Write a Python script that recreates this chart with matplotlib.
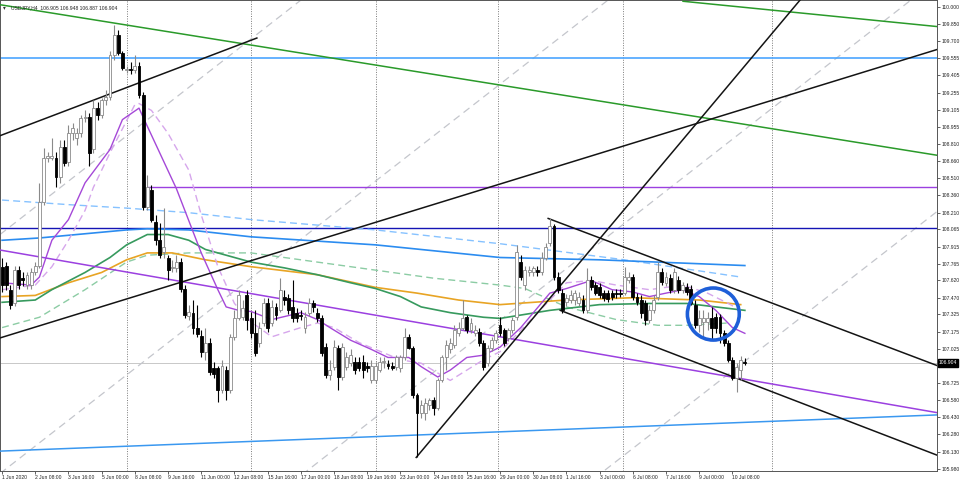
import numpy as np
import matplotlib
matplotlib.use("Agg")
import matplotlib.pyplot as plt
from matplotlib.patches import Ellipse

# USDJPY H4 candles, 1 Jun 2020 00:00 .. 10 Jul 2020
opens = [107.74, 107.75, 107.54, 107.42, 107.71, 107.64, 107.58, 107.58, 107.69, 107.75,
         108.30, 108.69, 108.69, 108.69, 108.52, 108.78, 108.65, 108.90, 108.86, 108.90,
         109.03, 109.04, 108.76, 109.12, 109.06, 109.19, 109.22, 109.58, 109.76, 109.60,
         109.45, 109.46, 109.45, 109.49, 109.23, 108.26, 108.41, 108.13, 107.97, 107.87,
         107.82, 107.73, 107.73, 107.78, 107.55, 107.31, 107.34, 107.21, 107.14, 107.00,
         107.08, 106.86, 106.86, 106.67, 106.84, 106.67, 107.13, 107.29, 107.30, 107.49,
         107.29, 107.16, 107.08, 107.25, 107.42, 107.25, 107.39, 107.36, 107.48, 107.47,
         107.39, 107.34, 107.32, 107.21, 107.34, 107.42, 107.34, 107.29, 107.04, 106.80,
         106.87, 107.03, 106.78, 106.87, 106.90, 106.91, 106.91, 106.91, 106.88, 106.75,
         106.75, 106.84, 106.91, 106.89, 106.88, 106.87, 106.86, 106.95, 107.13, 107.03,
         106.62, 106.47, 106.47, 106.54, 106.58, 106.51, 106.75, 106.95, 107.02, 107.06,
         107.16, 107.21, 107.30, 107.19, 107.16, 107.17, 107.08, 106.90, 107.03, 107.10,
         107.23, 107.19, 107.12, 107.19, 107.30, 107.78, 107.58, 107.69, 107.69, 107.71,
         107.69, 107.82, 107.95, 108.09, 107.65, 107.51, 107.43, 107.45, 107.45, 107.42,
         107.45, 107.36, 107.62, 107.58, 107.56, 107.51, 107.51, 107.51, 107.51, 107.51,
         107.51, 107.62, 107.65, 107.48, 107.45, 107.42, 107.28, 107.36, 107.48, 107.69,
         107.60, 107.64, 107.54, 107.62, 107.54, 107.56, 107.55, 107.41, 107.23, 107.26,
         107.26, 107.29, 107.30, 107.30, 107.16, 107.08, 106.93, 106.77, 106.84, 106.905]
highs = [107.82, 107.78, 107.58, 107.75, 107.75, 107.69, 107.69, 107.73, 107.78, 108.47,
         108.77, 108.74, 108.86, 108.74, 108.84, 108.84, 108.97, 108.99, 108.95, 109.06,
         109.10, 109.08, 109.19, 109.17, 109.21, 109.28, 109.62, 109.84, 109.80, 109.62,
         109.49, 109.52, 109.58, 109.52, 109.26, 108.54, 108.45, 108.19, 108.12, 108.25,
         107.84, 107.80, 107.84, 107.82, 107.58, 107.41, 107.45, 107.41, 107.19, 107.21,
         107.12, 106.91, 106.88, 106.93, 106.88, 107.15, 107.36, 107.54, 107.45, 107.54,
         107.35, 107.36, 107.26, 107.47, 107.47, 107.45, 107.42, 107.64, 107.54, 107.50,
         107.62, 107.38, 107.36, 107.35, 107.47, 107.45, 107.38, 107.32, 107.08, 106.93,
         107.10, 107.06, 107.08, 107.00, 107.02, 106.95, 106.95, 106.97, 106.91, 106.93,
         106.91, 106.95, 106.95, 106.93, 106.91, 106.97, 106.97, 107.21, 107.15, 107.05,
         106.64, 106.58, 106.60, 106.60, 106.61, 106.77, 106.97, 107.10, 107.12, 107.23,
         107.26, 107.45, 107.32, 107.29, 107.23, 107.21, 107.10, 107.06, 107.13, 107.19,
         107.30, 107.21, 107.21, 107.30, 107.93, 107.84, 107.75, 107.75, 107.75, 107.75,
         107.87, 107.95, 108.16, 108.11, 107.69, 107.55, 107.50, 107.54, 107.54, 107.52,
         107.49, 107.73, 107.66, 107.61, 107.60, 107.54, 107.54, 107.54, 107.55, 107.55,
         107.74, 107.69, 107.68, 107.51, 107.49, 107.45, 107.41, 107.49, 107.78, 107.73,
         107.69, 107.68, 107.73, 107.66, 107.61, 107.60, 107.58, 107.45, 107.36, 107.36,
         107.35, 107.39, 107.34, 107.33, 107.19, 107.10, 106.95, 106.90, 106.96, 106.948]
lows = [107.52, 107.54, 107.37, 107.40, 107.55, 107.57, 107.55, 107.55, 107.67, 107.73,
        108.28, 108.65, 108.67, 108.43, 108.47, 108.62, 108.62, 108.84, 108.80, 108.87,
        109.00, 108.62, 108.73, 109.02, 109.03, 109.15, 109.19, 109.54, 109.58, 109.45,
        109.43, 109.42, 109.43, 109.21, 108.23, 108.23, 108.13, 107.93, 107.82, 107.82,
        107.62, 107.69, 107.69, 107.52, 107.29, 107.28, 107.15, 107.13, 106.95, 106.93,
        106.80, 106.77, 106.56, 106.64, 106.58, 106.64, 107.10, 107.28, 107.28, 107.19,
        107.12, 106.96, 107.04, 107.22, 107.17, 107.22, 107.28, 107.35, 107.41, 107.33,
        107.26, 107.26, 107.28, 107.16, 107.31, 107.35, 107.26, 106.96, 106.77, 106.75,
        106.84, 106.67, 106.75, 106.84, 106.88, 106.81, 106.83, 106.77, 106.82, 106.73,
        106.73, 106.82, 106.86, 106.85, 106.84, 106.84, 106.82, 106.93, 107.02, 106.60,
        106.08, 106.42, 106.41, 106.49, 106.45, 106.49, 106.74, 106.84, 106.99, 107.03,
        107.14, 107.19, 107.16, 107.16, 107.14, 107.05, 106.84, 106.88, 107.01, 107.08,
        107.14, 107.05, 107.09, 107.16, 107.28, 107.62, 107.54, 107.66, 107.66, 107.66,
        107.67, 107.80, 107.92, 107.62, 107.51, 107.34, 107.40, 107.42, 107.41, 107.40,
        107.34, 107.34, 107.54, 107.49, 107.47, 107.44, 107.43, 107.45, 107.47, 107.48,
        107.49, 107.60, 107.45, 107.41, 107.29, 107.23, 107.25, 107.34, 107.45, 107.58,
        107.57, 107.51, 107.51, 107.51, 107.51, 107.49, 107.41, 107.21, 107.17, 107.13,
        107.19, 107.10, 107.16, 107.08, 107.05, 106.91, 106.75, 106.65, 106.75, 106.887]
closes = [107.58, 107.58, 107.41, 107.71, 107.58, 107.62, 107.67, 107.69, 107.75, 108.30,
          108.69, 108.70, 108.70, 108.52, 108.78, 108.64, 108.90, 108.95, 108.90, 109.03,
          109.04, 108.73, 109.12, 109.06, 109.19, 109.22, 109.58, 109.76, 109.60, 109.47,
          109.46, 109.45, 109.49, 109.23, 108.26, 108.43, 108.15, 107.97, 107.84, 107.91,
          107.71, 107.74, 107.78, 107.55, 107.32, 107.35, 107.21, 107.15, 107.00, 107.08,
          106.82, 106.81, 106.67, 106.88, 106.67, 107.13, 107.29, 107.49, 107.38, 107.28,
          107.16, 106.99, 107.21, 107.42, 107.21, 107.39, 107.32, 107.54, 107.45, 107.36,
          107.29, 107.29, 107.31, 107.30, 107.42, 107.39, 107.29, 106.99, 106.80, 106.84,
          107.04, 106.78, 107.04, 106.95, 106.97, 106.84, 106.86, 106.84, 106.86, 106.88,
          106.88, 106.91, 106.92, 106.88, 106.86, 106.95, 106.95, 107.13, 107.03, 106.62,
          106.47, 106.54, 106.55, 106.58, 106.51, 106.75, 106.95, 107.06, 107.08, 107.19,
          107.21, 107.29, 107.19, 107.25, 107.19, 107.08, 106.87, 107.03, 107.10, 107.16,
          107.16, 107.08, 107.19, 107.28, 107.87, 107.65, 107.71, 107.71, 107.73, 107.69,
          107.82, 107.91, 108.09, 107.65, 107.54, 107.36, 107.47, 107.49, 107.51, 107.48,
          107.36, 107.62, 107.56, 107.51, 107.49, 107.47, 107.46, 107.48, 107.50, 107.50,
          107.65, 107.65, 107.48, 107.43, 107.34, 107.28, 107.36, 107.45, 107.69, 107.61,
          107.65, 107.54, 107.69, 107.54, 107.58, 107.52, 107.42, 107.23, 107.29, 107.29,
          107.29, 107.21, 107.21, 107.16, 107.08, 106.93, 106.77, 106.87, 106.93, 106.904]

time_labels = ["1 Jun 2020", "2 Jun 08:00", "3 Jun 16:00", "5 Jun 00:00", "8 Jun 08:00",
               "9 Jun 16:00", "11 Jun 00:00", "12 Jun 08:00", "15 Jun 16:00", "17 Jun 00:00",
               "18 Jun 08:00", "19 Jun 16:00", "23 Jun 00:00", "24 Jun 08:00", "25 Jun 16:00",
               "29 Jun 00:00", "30 Jun 08:00", "1 Jul 16:00", "3 Jul 00:00", "6 Jul 08:00",
               "7 Jul 16:00", "9 Jul 00:00", "10 Jul 08:00"]
label_bars = list(range(0, 8 * len(time_labels), 8))

price_ticks = [110.000, 109.850, 109.700, 109.555, 109.405, 109.255, 109.105, 108.955,
               108.810, 108.660, 108.510, 108.360, 108.210, 108.065, 107.915, 107.765,
               107.620, 107.470, 107.325, 107.175, 107.025, 106.875, 106.725, 106.580,
               106.430, 106.280, 106.130, 105.980]

# moving averages (bar index, price)
ma_blue_x = [0, 9, 30, 35, 45, 60, 90, 120, 144, 179]
ma_blue_y = [107.97, 107.99, 108.06, 108.07, 108.06, 108.00, 107.93, 107.82, 107.80, 107.75]
ma_lblue_x = [0, 16, 30, 45, 60, 90, 120, 150, 178]
ma_lblue_y = [108.32, 108.28, 108.25, 108.21, 108.15, 108.06, 107.94, 107.80, 107.65]
ma_green_x = [0, 8, 12, 20, 26, 30, 35, 40, 45, 49, 56, 60, 68, 76, 84, 90, 96, 101, 108,
              116, 120, 132, 144, 156, 165, 172, 179]
ma_green_y = [107.43, 107.45, 107.54, 107.69, 107.82, 107.93, 108.02, 108.02, 107.97, 107.89,
              107.82, 107.78, 107.73, 107.67, 107.60, 107.55, 107.48, 107.39, 107.34, 107.30,
              107.29, 107.36, 107.41, 107.42, 107.42, 107.39, 107.36]
ma_orange_x = [0, 8, 16, 24, 30, 35, 41, 49, 60, 76, 90, 100, 110, 120, 136, 152, 168, 178]
ma_orange_y = [107.48, 107.49, 107.60, 107.69, 107.80, 107.86, 107.86, 107.80, 107.74, 107.67,
               107.56, 107.51, 107.45, 107.41, 107.45, 107.47, 107.45, 107.41]
ma_lgreen_x = [0, 9, 20, 30, 35, 45, 60, 76, 90, 104, 120, 126, 136, 148, 158, 165, 175]
ma_lgreen_y = [107.21, 107.30, 107.54, 107.78, 107.84, 107.86, 107.86, 107.78, 107.71, 107.64,
               107.58, 107.55, 107.39, 107.28, 107.23, 107.23, 107.25]
ma_purple_x = [0, 7, 9, 12, 16, 20, 26, 29, 33, 34, 38, 42, 48, 52, 54, 57, 60, 65, 72, 76,
               79, 84, 89, 93, 98, 101, 105, 108, 112, 116, 120, 125, 132, 136, 142, 147, 152,
               156, 160, 164, 168, 172, 176, 179]
ma_purple_y = [107.60, 107.58, 107.65, 107.97, 108.15, 108.47, 108.76, 109.02, 109.12, 109.04,
               108.73, 108.42, 107.86, 107.54, 107.39, 107.36, 107.35, 107.28, 107.34, 107.28,
               107.21, 107.10, 107.02, 106.95, 106.95, 106.87, 106.78, 106.84, 106.95, 106.97,
               107.04, 107.21, 107.51, 107.55, 107.62, 107.54, 107.52, 107.48, 107.51, 107.54,
               107.48, 107.36, 107.21, 107.16]
ma_lpurple_x = [0, 8, 12, 16, 20, 22, 26, 32, 33, 36, 40, 45, 48, 52, 56, 60, 65, 72, 76, 80,
                86, 92, 96, 101, 108, 112, 116, 120, 128, 136, 142, 148, 156, 164, 170, 175, 178]
ma_lpurple_y = [107.54, 107.58, 107.74, 107.97, 108.23, 108.43, 108.73, 109.15, 109.16, 109.10,
                108.90, 108.58, 108.19, 107.74, 107.42, 107.26, 107.13, 107.21, 107.25, 107.21,
                107.08, 106.99, 106.93, 106.90, 106.75, 106.84, 106.93, 107.00, 107.30, 107.60,
                107.62, 107.58, 107.54, 107.58, 107.51, 107.42, 107.36]

# drawn objects: ((bar, price), (bar, price))
black_lines = [((-0.5, 108.88), (61.4, 109.73)),
               ((-0.5, 107.12), (225.3, 109.63)),
               ((99.8, 106.08), (196.0, 110.22)),
               ((131.6, 108.16), (225.3, 106.88)),
               ((134.5, 107.36), (225.3, 106.10))]
green_lines = [((-0.5, 110.02), (225.3, 108.71)),
               ((164.1, 110.05), (225.3, 109.83))]
purple_line = ((-0.5, 107.885), (225.3, 106.47))
blue_line = ((-0.5, 106.135), (225.3, 106.45))
gray_dashed = [((-0.5, 105.94), (146.0, 110.06)),
               ((-0.5, 108.02), (72.0, 110.06)),
               ((72.3, 105.93), (219.0, 110.06)),
               ((145.3, 105.97), (225.3, 108.22))]
level_lightblue = 109.56
level_navy = 108.075
level_purple = 108.43
level_purple_start = 35.2
bid = 106.904
grid_bars = [30, 60, 90, 119.5, 149.6, 185.5]

plt.rcParams['font.family'] = ['Liberation Sans', 'DejaVu Sans']

fig = plt.figure(figsize=(9.6, 4.82), dpi=100)
ax = fig.add_axes([0.0, 11 / 482, 937 / 960, 471 / 482])
ax.set_xlim(-0.5, 225.3)
ax.set_ylim(105.962, 110.061)

for b in grid_bars:
    ax.axvline(b, color='#7a7a7a', lw=0.7, ls=(0, (1, 1.5)), zorder=1)
ax.axhline(bid, color='#c8c8c8', lw=0.7, zorder=1)

for (x0, y0), (x1, y1) in gray_dashed:
    ax.plot([x0, x1], [y0, y1], color='#c4c6cc', lw=0.9, ls=(0, (6, 4)), zorder=2)

ax.axhline(level_lightblue, color='#4ba6ff', lw=1.2, zorder=2)
ax.axhline(level_navy, color='#1414b4', lw=1.0, zorder=2)
ax.plot([level_purple_start, 225.3], [level_purple, level_purple], color='#9b40e0', lw=1.0, zorder=2)

ax.plot(ma_lblue_x, ma_lblue_y, color='#86c2ff', lw=1.0, ls=(0, (5, 3)), zorder=3)
ax.plot(ma_blue_x, ma_blue_y, color='#2b8cf0', lw=1.2, zorder=3)
ax.plot(ma_lgreen_x, ma_lgreen_y, color='#8ccca4', lw=1.0, ls=(0, (5, 3)), zorder=3)
ax.plot(ma_orange_x, ma_orange_y, color='#e8a424', lw=1.2, zorder=3)
ax.plot(ma_green_x, ma_green_y, color='#379a5e', lw=1.2, zorder=3)
ax.plot(ma_lpurple_x, ma_lpurple_y, color='#d6a6ec', lw=1.0, ls=(0, (5, 3)), zorder=3)
ax.plot(ma_purple_x, ma_purple_y, color='#a548d8', lw=1.0, zorder=3)

for (x0, y0), (x1, y1) in green_lines:
    ax.plot([x0, x1], [y0, y1], color='#2a9a2a', lw=1.1, zorder=4)
ax.plot(*zip(*purple_line), color='#9b40e0', lw=1.1, zorder=4)
ax.plot(*zip(*blue_line), color='#3a98f0', lw=1.1, zorder=4)
for (x0, y0), (x1, y1) in black_lines:
    ax.plot([x0, x1], [y0, y1], color='#141414', lw=1.1, zorder=4)

# candles
o = np.array(opens)
h = np.array(highs)
l = np.array(lows)
c = np.array(closes)
idx = np.arange(len(o))
up = c >= o
lo = np.minimum(o, c)
hgt = np.maximum(np.abs(c - o), 0.005)
ax.vlines(idx[up], l[up], h[up], color='#8a8a8a', lw=0.8, zorder=5)
ax.vlines(idx[~up], l[~up], h[~up], color='#000000', lw=0.8, zorder=5)
ax.bar(idx[up], hgt[up], bottom=lo[up], width=0.7, color='white',
       edgecolor='#8a8a8a', linewidth=0.6, zorder=6)
ax.bar(idx[~up], hgt[~up], bottom=lo[~up], width=0.7, color='black',
       edgecolor='black', linewidth=0.6, zorder=6)

# highlight circle
ax.add_patch(Ellipse((171.4, 107.328), 12.5, 0.453, fill=False,
                     edgecolor='#1e5fd8', lw=2.6, zorder=7))

# axes styling
ax.yaxis.tick_right()
ax.set_yticks(price_ticks)
ax.set_yticklabels([f"{p:.3f}" for p in price_ticks])
ax.set_xticks(label_bars)
ax.set_xticklabels(time_labels)
plt.setp(ax.get_xticklabels(), ha='left')
ax.tick_params(axis='both', labelsize=3.6, length=2, width=0.5, pad=1.2, colors='#222222')
for s in ax.spines.values():
    s.set_linewidth(0.7)
    s.set_color('#555555')

ax.text(1.002, bid, f"{bid:.3f}", transform=ax.get_yaxis_transform(), fontsize=3.6,
        color='white', va='center', ha='left', zorder=10,
        bbox=dict(boxstyle='square,pad=0.25', fc='black', ec='black'))

fig.text(11 / 960, 1 - 8 / 482, "USDJPY,H4  106.905 106.948 106.887 106.904",
         fontsize=3.6, va='center', ha='left', color='#222222')
fig.text(3 / 960, 1 - 8 / 482, "\u25be", fontsize=4, va='center', ha='left', color='#333333')

fig.savefig("out.png", dpi=100, facecolor='white')
